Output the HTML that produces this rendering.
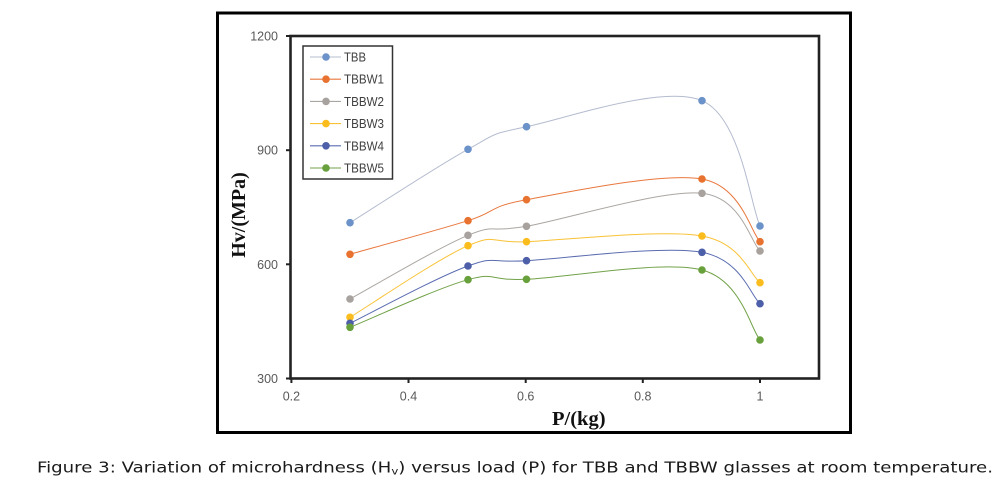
<!DOCTYPE html>
<html>
<head>
<meta charset="utf-8">
<style>
html,body{margin:0;padding:0;background:#fff;}
svg{display:block;}
</style>
</head>
<body>
<svg width="1007" height="491" viewBox="0 0 1007 491" xmlns="http://www.w3.org/2000/svg">
<rect x="0" y="0" width="1007" height="491" fill="#fff"/>
<!-- outer frame -->
<rect x="217.5" y="13" width="633" height="419.5" fill="none" stroke="#000" stroke-width="3"/>
<!-- plot box -->
<rect x="290.5" y="36" width="528.5" height="342.5" fill="none" stroke="#222" stroke-width="2.6"/>
<!-- ticks -->
<g stroke="#222" stroke-width="2">
<line x1="286" y1="36" x2="290" y2="36"/>
<line x1="286" y1="150.2" x2="290" y2="150.2"/>
<line x1="286" y1="264.3" x2="290" y2="264.3"/>
<line x1="286" y1="378.5" x2="290" y2="378.5"/>
<line x1="291.4" y1="379" x2="291.4" y2="383"/>
<line x1="408.5" y1="379" x2="408.5" y2="383"/>
<line x1="525.7" y1="379" x2="525.7" y2="383"/>
<line x1="642.8" y1="379" x2="642.8" y2="383"/>
<line x1="760" y1="379" x2="760" y2="383"/>
</g>
<g font-family="Liberation Sans, sans-serif" font-size="12.5" fill="#595959">
<text x="278" y="40.5" text-anchor="end">1200</text>
<text x="278" y="154.7" text-anchor="end">900</text>
<text x="278" y="268.8" text-anchor="end">600</text>
<text x="278" y="383" text-anchor="end">300</text>
<text x="291.4" y="400.5" text-anchor="middle">0.2</text>
<text x="408.5" y="400.5" text-anchor="middle">0.4</text>
<text x="525.7" y="400.5" text-anchor="middle">0.6</text>
<text x="642.8" y="400.5" text-anchor="middle">0.8</text>
<text x="760" y="400.5" text-anchor="middle">1</text>
</g>
<!-- axis titles -->
<text x="552" y="425" font-family="Liberation Serif, serif" font-weight="bold" font-size="20.5" fill="#111">P/(kg)</text>
<text transform="translate(245,215) rotate(-90)" x="0" y="0" text-anchor="middle" font-family="Liberation Serif, serif" font-weight="bold" font-size="20" fill="#111">Hv/(MPa)</text>

<!-- series lines -->
<g fill="none" stroke-width="1">
<path stroke="#b4bccf" d="M350,222.7 C369.67,210.47 438.58,165.3 468,149.3 C497.42,133.3 487.5,134.8 526.5,126.7 C565.5,118.6 663.08,84.15 702,100.7 C740.92,117.25 750.33,205.12 760,226"/>
<path stroke="#e9773d" d="M350,254.3 C369.67,248.7 438.58,229.8 468,220.7 C497.42,211.6 487.5,206.65 526.5,199.7 C565.5,192.75 663.08,172 702,179 C740.92,186 750.33,231.25 760,241.7"/>
<path stroke="#aaa6a2" d="M350,299 C369.67,288.38 438.58,247.42 468,235.3 C497.42,223.18 487.5,233.3 526.5,226.3 C565.5,219.3 663.08,189.18 702,193.3 C740.92,197.42 750.33,241.38 760,251"/>
<path stroke="#f9c236" d="M350,317.3 C369.67,305.37 438.58,258.3 468,245.7 C497.42,233.1 487.5,243.32 526.5,241.7 C565.5,240.08 663.08,229.17 702,236 C740.92,242.83 750.33,274.92 760,282.7"/>
<path stroke="#5a6cb0" d="M350,323.3 C369.67,313.75 438.58,276.43 468,266 C497.42,255.57 487.5,262.98 526.5,260.7 C565.5,258.42 663.08,245.13 702,252.3 C740.92,259.47 750.33,295.13 760,303.7"/>
<path stroke="#72a249" d="M350,327.3 C369.67,319.37 438.58,287.7 468,279.7 C497.42,271.7 487.5,280.92 526.5,279.3 C565.5,277.68 663.08,259.88 702,270 C740.92,280.12 750.33,328.33 760,340"/>
</g>
<!-- markers -->
<g fill="#6b92c9">
<circle cx="350" cy="222.7" r="3.8"/><circle cx="468" cy="149.3" r="3.8"/><circle cx="526.5" cy="126.7" r="3.8"/><circle cx="702" cy="100.7" r="3.8"/><circle cx="760" cy="226" r="3.8"/>
</g>
<g fill="#e8722f">
<circle cx="350" cy="254.3" r="3.8"/><circle cx="468" cy="220.7" r="3.8"/><circle cx="526.5" cy="199.7" r="3.8"/><circle cx="702" cy="179" r="3.8"/><circle cx="760" cy="241.7" r="3.8"/>
</g>
<g fill="#a8a29f">
<circle cx="350" cy="299" r="3.8"/><circle cx="468" cy="235.3" r="3.8"/><circle cx="526.5" cy="226.3" r="3.8"/><circle cx="702" cy="193.3" r="3.8"/><circle cx="760" cy="251" r="3.8"/>
</g>
<g fill="#fbbd1e">
<circle cx="350" cy="317.3" r="3.8"/><circle cx="468" cy="245.7" r="3.8"/><circle cx="526.5" cy="241.7" r="3.8"/><circle cx="702" cy="236" r="3.8"/><circle cx="760" cy="282.7" r="3.8"/>
</g>
<g fill="#4c5fa8">
<circle cx="350" cy="323.3" r="3.8"/><circle cx="468" cy="266" r="3.8"/><circle cx="526.5" cy="260.7" r="3.8"/><circle cx="702" cy="252.3" r="3.8"/><circle cx="760" cy="303.7" r="3.8"/>
</g>
<g fill="#68a03c">
<circle cx="350" cy="327.3" r="3.8"/><circle cx="468" cy="279.7" r="3.8"/><circle cx="526.5" cy="279.3" r="3.8"/><circle cx="702" cy="270" r="3.8"/><circle cx="760" cy="340" r="3.8"/>
</g>

<!-- legend -->
<rect x="303" y="46" width="89.5" height="133" fill="#fff" stroke="#333" stroke-width="1.5"/>
<g stroke-width="1.1">
<line x1="310" y1="57" x2="341" y2="57" stroke="#b4bccf"/>
<line x1="310" y1="79.2" x2="341" y2="79.2" stroke="#e9773d"/>
<line x1="310" y1="101.4" x2="341" y2="101.4" stroke="#aaa6a2"/>
<line x1="310" y1="123.6" x2="341" y2="123.6" stroke="#f9c236"/>
<line x1="310" y1="145.8" x2="341" y2="145.8" stroke="#5a6cb0"/>
<line x1="310" y1="168" x2="341" y2="168" stroke="#72a249"/>
</g>
<circle cx="326" cy="57" r="3.8" fill="#6b92c9"/>
<circle cx="326" cy="79.2" r="3.8" fill="#e8722f"/>
<circle cx="326" cy="101.4" r="3.8" fill="#a8a29f"/>
<circle cx="326" cy="123.6" r="3.8" fill="#fbbd1e"/>
<circle cx="326" cy="145.8" r="3.8" fill="#4c5fa8"/>
<circle cx="326" cy="168" r="3.8" fill="#68a03c"/>
<g font-family="Liberation Sans, sans-serif" font-size="12.8" fill="#404040">
<text x="344" y="61.5" textLength="22" lengthAdjust="spacingAndGlyphs">TBB</text>
<text x="344" y="83.7" textLength="40" lengthAdjust="spacingAndGlyphs">TBBW1</text>
<text x="344" y="105.9" textLength="40" lengthAdjust="spacingAndGlyphs">TBBW2</text>
<text x="344" y="128.1" textLength="40" lengthAdjust="spacingAndGlyphs">TBBW3</text>
<text x="344" y="150.3" textLength="40" lengthAdjust="spacingAndGlyphs">TBBW4</text>
<text x="344" y="172.5" textLength="40" lengthAdjust="spacingAndGlyphs">TBBW5</text>
</g>

<!-- caption -->
<text x="37" y="472.5" font-family="DejaVu Sans, sans-serif" font-size="15.5" fill="#1a1a1a" textLength="956" lengthAdjust="spacingAndGlyphs">Figure 3: Variation of microhardness (H<tspan font-size="10" dy="2">v</tspan><tspan dy="-2">) versus load (P) for TBB and TBBW glasses at room temperature.</tspan></text>
</svg>
</body>
</html>
